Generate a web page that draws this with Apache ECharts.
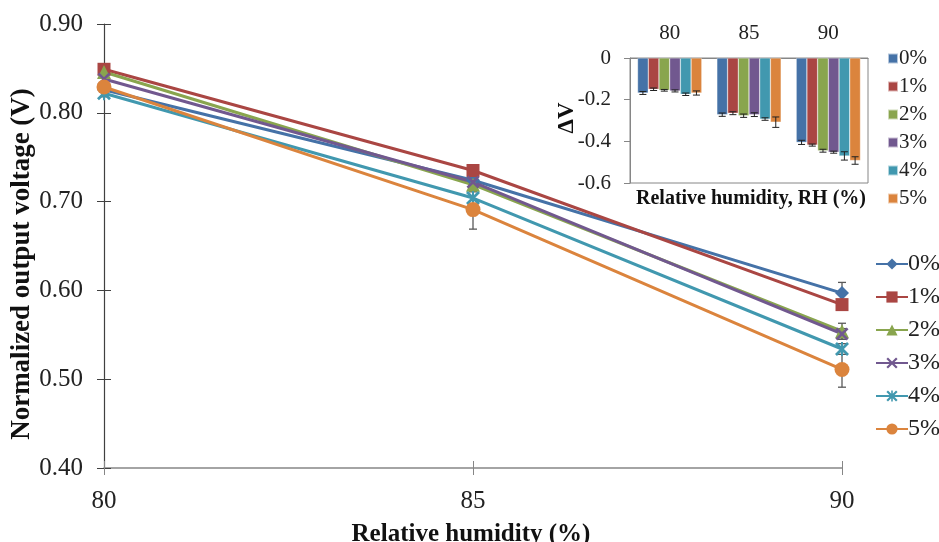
<!DOCTYPE html>
<html>
<head>
<meta charset="utf-8">
<script src="https://cdn.jsdelivr.net/npm/echarts@6/dist/echarts.min.js"></script>
<style>
  html, body { margin: 0; padding: 0; background: #fff; }
  #chart { width: 939px; height: 542px; }
</style>
</head>
<body>
<div id="chart"></div>
<script>
// main chart: normalized output voltage vs RH
var humidity = [80, 85, 90];
var names = ['0%', '1%', '2%', '3%', '4%', '5%'];
var colors = ['#4572A7', '#AA4643', '#89A54E', '#71588F', '#4198AF', '#DB843D'];

var v0 = [0.826, 0.724, 0.597];
var v1 = [0.849, 0.735, 0.584];
var v2 = [0.846, 0.719, 0.554];
var v3 = [0.838, 0.722, 0.551];
var v4 = [0.822, 0.704, 0.534];
var v5 = [0.829, 0.691, 0.511];
var err0 = [0.003, 0.003, 0.012];
var err1 = [0.004, 0.006, 0.004];
var err2 = [0.004, 0.008, 0.009];
var err3 = [0.003, 0.004, 0.006];
var err4 = [0.004, 0.008, 0.006];
var err5 = [0.004, 0.022, 0.020];

// inset: delta V per RH group
var insetCats = ['80', '85', '90'];
var d0 = [-0.168, -0.272, -0.405];
var d1 = [-0.150, -0.265, -0.418];
var d2 = [-0.155, -0.277, -0.445];
var d3 = [-0.158, -0.272, -0.452];
var d4 = [-0.174, -0.293, -0.470];
var d5 = [-0.168, -0.308, -0.492];
var de0 = [0.007, 0.008, 0.010];
var de1 = [0.006, 0.007, 0.005];
var de2 = [0.004, 0.008, 0.007];
var de3 = [0.005, 0.009, 0.005];
var de4 = [0.006, 0.006, 0.020];
var de5 = [0.010, 0.025, 0.018];

var vals = [v0, v1, v2, v3, v4, v5];
var errs = [err0, err1, err2, err3, err4, err5];
var dvals = [d0, d1, d2, d3, d4, d5];
var derrs = [de0, de1, de2, de3, de4, de5];

var xMark = 'path://M0,1.4 L1.4,0 L5,3.6 L8.6,0 L10,1.4 L6.4,5 L10,8.6 L8.6,10 L5,6.4 L1.4,10 L0,8.6 L3.6,5 Z';
var starMark = 'path://M0,1.4 L1.4,0 L5,3.6 L8.6,0 L10,1.4 L6.4,5 L10,8.6 L8.6,10 L5,6.4 L1.4,10 L0,8.6 L3.6,5 Z M4.3,0 L5.7,0 L5.7,10 L4.3,10 Z';
var symbols = ['diamond', 'rect', 'triangle', xMark, starMark, 'circle'];
var symSizes = [14, 13, 14, 13, 14, 15];

var FONT = 'Liberation Serif';
var BAR_GAP = 0.19;

var series = [];

// error bars for the line chart
var errData = [];
for (var s = 0; s < 6; s++) {
    for (var i = 0; i < humidity.length; i++) {
        errData.push([humidity[i], vals[s][i], errs[s][i]]);
    }
}
series.push({
    type: 'custom',
    xAxisIndex: 0, yAxisIndex: 0,
    z: 1,
    silent: true,
    data: errData,
    renderItem: function (params, api) {
        var x = api.value(0), y = api.value(1), e = api.value(2);
        var top = api.coord([x, y + e]);
        var bot = api.coord([x, y - e]);
        var st = { stroke: '#595959', lineWidth: 1.3 };
        return {
            type: 'group',
            children: [
                { type: 'line', shape: { x1: top[0], y1: top[1], x2: bot[0], y2: bot[1] }, style: st },
                { type: 'line', shape: { x1: top[0] - 4, y1: top[1], x2: top[0] + 4, y2: top[1] }, style: st },
                { type: 'line', shape: { x1: bot[0] - 4, y1: bot[1], x2: bot[0] + 4, y2: bot[1] }, style: st }
            ]
        };
    }
});

for (var s = 0; s < 6; s++) {
    var pts = [];
    for (var i = 0; i < humidity.length; i++) pts.push([humidity[i], vals[s][i]]);
    series.push({
        name: names[s],
        type: 'line',
        xAxisIndex: 0, yAxisIndex: 0,
        z: 3,
        data: pts,
        symbol: symbols[s],
        symbolSize: symSizes[s],
        showAllSymbol: true,
        color: colors[s],
        lineStyle: { width: 3, color: colors[s] },
        itemStyle: { color: colors[s] },
        emphasis: { disabled: true }
    });
}

// inset bars
for (var s = 0; s < 6; s++) {
    series.push({
        name: 'b' + names[s],
        type: 'bar',
        xAxisIndex: 2, yAxisIndex: 2,
        z: 5,
        data: dvals[s],
        barGap: '0%',
        barCategoryGap: (BAR_GAP * 100) + '%',
        itemStyle: { color: colors[s], borderColor: 'rgba(255,255,255,0.6)', borderWidth: 0.5 },
        emphasis: { disabled: true }
    });
}

var insetErr = [];
for (var s = 0; s < 6; s++) {
    for (var i = 0; i < insetCats.length; i++) {
        insetErr.push([i, dvals[s][i], derrs[s][i], s]);
    }
}
series.push({
    type: 'custom',
    xAxisIndex: 2, yAxisIndex: 2,
    z: 6,
    silent: true,
    data: insetErr,
    renderItem: function (params, api) {
        var c = api.value(0), v = api.value(1), e = api.value(2), k = api.value(3);
        var center = api.coord([c, v]);
        var band = api.size([1, 0])[0];
        var groupW = band * (1 - BAR_GAP);
        var bw = groupW / 6;
        var x = center[0] - groupW / 2 + bw * (k + 0.5);
        var y1 = api.coord([c, v + e])[1];
        var y2 = api.coord([c, v - e])[1];
        var st = { stroke: '#222', lineWidth: 1 };
        return {
            type: 'group',
            children: [
                { type: 'line', shape: { x1: x, y1: y1, x2: x, y2: y2 }, style: st },
                { type: 'line', shape: { x1: x - 3.5, y1: y1, x2: x + 3.5, y2: y1 }, style: st },
                { type: 'line', shape: { x1: x - 3.5, y1: y2, x2: x + 3.5, y2: y2 }, style: st }
            ]
        };
    }
});

var chart = echarts.init(document.getElementById('chart'), null, { renderer: 'canvas' });
var option = {
    backgroundColor: '#fff',
    animation: false,
    textStyle: { fontFamily: FONT },
    grid: [
        { left: 104, right: 97, top: 24, bottom: 74 },
        { left: 104, right: 97, top: 24, bottom: 74 },
        { left: 630, top: 58, width: 238, height: 125, show: true, borderColor: '#868686', borderWidth: 1, backgroundColor: 'transparent', z: 4 }
    ],
    xAxis: [
        {
            type: 'value', gridIndex: 0, min: 80, max: 90, interval: 5,
            axisLine: { lineStyle: { color: '#868686', width: 1.5 } },
            axisTick: { length: 7, lineStyle: { color: '#868686' } },
            axisLabel: { color: '#222', fontSize: 25, fontFamily: FONT, margin: 21 },
            splitLine: { show: false }
        },
        {
            type: 'value', gridIndex: 1, min: 80, max: 90, interval: 5,
            axisLine: { show: false },
            axisTick: { inside: true, length: 7, lineStyle: { color: '#868686' } },
            axisLabel: { show: false },
            splitLine: { show: false }
        },
        {
            type: 'category', gridIndex: 2, data: insetCats, position: 'top',
            axisLine: { onZero: false, lineStyle: { color: '#868686' } },
            axisTick: { inside: true, length: 6, lineStyle: { color: '#868686' } },
            axisLabel: { color: '#222', fontSize: 21, fontFamily: FONT, margin: 14 },
            splitLine: { show: false }
        }
    ],
    yAxis: [
        {
            type: 'value', gridIndex: 0, min: 0.4, max: 0.9, interval: 0.1,
            axisLine: { show: true, lineStyle: { color: '#404040', width: 1.2 } },
            axisTick: { show: true, length: 7, lineStyle: { color: '#404040' } },
            axisLabel: { color: '#222', fontSize: 25, fontFamily: FONT, margin: 21,
                formatter: function (v) { return v.toFixed(2); } },
            splitLine: { show: false }
        },
        {
            type: 'value', gridIndex: 1, min: 0.4, max: 0.9, interval: 0.1,
            axisLine: { show: false },
            axisTick: { show: true, inside: true, length: 7, lineStyle: { color: '#404040' } },
            axisLabel: { show: false },
            splitLine: { show: false }
        },
        {
            type: 'value', gridIndex: 2, min: -0.6, max: 0, interval: 0.2,
            axisLine: { show: true, lineStyle: { color: '#868686' } },
            axisTick: { show: true, length: 6, lineStyle: { color: '#868686' } },
            axisLabel: { color: '#222', fontSize: 21, fontFamily: FONT, margin: 19,
                formatter: function (v) { return v === 0 ? '0' : String(Math.round(v * 10) / 10); } },
            splitLine: { show: false }
        }
    ],
    legend: [
        {
            orient: 'vertical', left: 870, top: 247,
            data: names,
            itemWidth: 32, itemHeight: 14, itemGap: 9,
            textStyle: { fontSize: 24, fontFamily: FONT, color: '#222', padding: [0, 0, 0, -5] },
            selectedMode: false
        },
        {
            orient: 'vertical', left: 882, top: 43,
            data: names.map(function (n) { return { name: 'b' + n, icon: 'rect' }; }),
            formatter: function (n) { return n.slice(1); },
            itemWidth: 10, itemHeight: 10, itemGap: 7,
            textStyle: { fontSize: 21, fontFamily: FONT, color: '#222', padding: [0, 0, 0, -4] },
            selectedMode: false
        }
    ],
    graphic: [
        { type: 'text', x: 22, y: 264, rotation: Math.PI / 2,
          style: { text: 'Normalized output voltage (V)', font: 'bold 27px "Liberation Serif"', fill: '#111', textAlign: 'center', textVerticalAlign: 'middle' } },
        { type: 'text', x: 471, y: 535,
          style: { text: 'Relative humidity (%)', font: 'bold 25px "Liberation Serif"', fill: '#111', textAlign: 'center', textVerticalAlign: 'middle' } },
        { type: 'text', x: 567, y: 118, rotation: Math.PI / 2,
          style: { text: 'ΔV', font: 'bold 23px "Liberation Serif"', fill: '#111', textAlign: 'center', textVerticalAlign: 'middle' } },
        { type: 'text', x: 751, y: 199,
          style: { text: 'Relative humidity, RH (%)', font: 'bold 20px "Liberation Serif"', fill: '#111', textAlign: 'center', textVerticalAlign: 'middle' } }
    ],
    series: series
};
chart.setOption(option);
</script>
</body>
</html>
